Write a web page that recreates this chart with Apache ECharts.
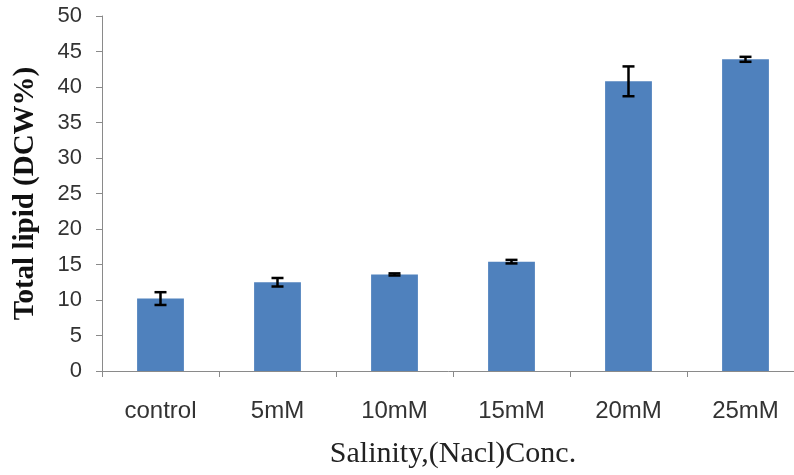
<!DOCTYPE html>
<html>
<head>
<meta charset="utf-8">
<script src="https://cdn.jsdelivr.net/npm/echarts@6/dist/echarts.min.js"></script>
<style>
  html, body { margin: 0; padding: 0; background: #fff; }
  #chart { width: 794px; height: 475px; }
</style>
</head>
<body>
<div id="chart"></div>
<script>
const categories = ["control", "5mM", "10mM", "15mM", "20mM", "25mM"];
const lipidValues = [10.2, 12.5, 13.6, 15.4, 40.8, 43.9];
const lipidErrors = [0.9, 0.6, 0.15, 0.25, 2.1, 0.35];
const yTicks = [0, 5, 10, 15, 20, 25, 30, 35, 40, 45, 50];

const chart = echarts.init(document.getElementById("chart"));

// [category index, low, high] for the error whiskers
const errorData = categories.map((c, i) => [
  i,
  lipidValues[i] - lipidErrors[i],
  lipidValues[i] + lipidErrors[i],
]);

const option = {
  animation: false,
  grid: {
    left: 102,
    top: 16,
    width: 702,
    height: 355,
    outerBoundsMode: "none",
  },
  xAxis: {
    type: "category",
    data: categories,
    name: "Salinity,(Nacl)Conc.",
    nameLocation: "middle",
    nameGap: 68,
    nameTextStyle: {
      fontFamily: "Liberation Serif",
      fontSize: 30,
      color: "#222",
    },
    axisLine: { lineStyle: { color: "#8a8a8a", width: 1 } },
    axisTick: { show: true, length: 6, lineStyle: { color: "#8a8a8a" } },
    axisLabel: {
      margin: 28,
      fontFamily: "Liberation Sans",
      fontSize: 24,
      color: "#333",
    },
  },
  yAxis: {
    type: "value",
    min: yTicks[0],
    max: yTicks[yTicks.length - 1],
    interval: 5,
    name: "Total lipid (DCW%)",
    nameLocation: "middle",
    nameGap: 62,
    nameTextStyle: {
      fontFamily: "Liberation Serif",
      fontSize: 29,
      fontWeight: "bold",
      color: "#111",
    },
    axisLine: { show: true, lineStyle: { color: "#8a8a8a", width: 1 } },
    axisTick: { show: true, length: 6, lineStyle: { color: "#8a8a8a" } },
    splitLine: { show: false },
    axisLabel: {
      margin: 20,
      fontFamily: "Liberation Sans",
      fontSize: 22,
      color: "#333",
    },
  },
  series: [
    {
      name: "Total lipid",
      type: "bar",
      data: lipidValues,
      barWidth: "40%",
      itemStyle: { color: "#4f81bd" },
    },
    {
      type: "custom",
      data: errorData,
      z: 10,
      renderItem: (params, api) => {
        const x = api.value(0);
        const low = api.coord([x, api.value(1)]);
        const high = api.coord([x, api.value(2)]);
        const half = 6;
        const style = { stroke: "#000", lineWidth: 2.5 };
        return {
          type: "group",
          children: [
            { type: "line", shape: { x1: high[0], y1: high[1], x2: low[0], y2: low[1] }, style },
            { type: "line", shape: { x1: high[0] - half, y1: high[1], x2: high[0] + half, y2: high[1] }, style },
            { type: "line", shape: { x1: low[0] - half, y1: low[1], x2: low[0] + half, y2: low[1] }, style },
          ],
        };
      },
    },
  ],
};

chart.setOption(option);
</script>
</body>
</html>
